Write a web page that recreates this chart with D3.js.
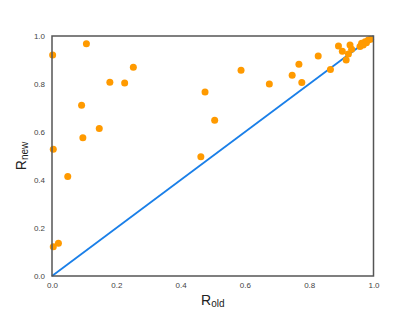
<!DOCTYPE html>
<html>
<head>
<meta charset="utf-8">
<script src="https://cdn.jsdelivr.net/npm/d3@7"></script>
<style>
  body { margin: 0; background: #fff; }
  svg { display: block; }
</style>
</head>
<body>
<div id="chart"></div>
<script>
// values
const rOld = [0.107, 0.002, 0.253, 0.180, 0.226, 0.092, 0.147, 0.096, 0.004, 0.049, 0.020, 0.004,
              0.588, 0.476, 0.506, 0.463, 0.676, 0.747, 0.768, 0.777, 0.828, 0.866,
              0.891, 0.903, 0.927, 0.915, 0.922, 0.932, 0.958, 0.963, 0.974, 0.984, 0.991, 0.968, 0.978];
const rNew = [0.968, 0.921, 0.870, 0.807, 0.804, 0.711, 0.615, 0.576, 0.528, 0.415, 0.136, 0.122,
              0.857, 0.767, 0.649, 0.497, 0.800, 0.836, 0.882, 0.806, 0.917, 0.860,
              0.958, 0.936, 0.963, 0.900, 0.925, 0.945, 0.956, 0.970, 0.976, 0.983, 0.986, 0.962, 0.972];
const ticks = [0, 0.2, 0.4, 0.6, 0.8, 1.0];
const diagonal = [[0, 0], [1, 1]];

const width = 415, height = 311;
const margin = {top: 36, right: 41.5, bottom: 35, left: 52};

const svg = d3.select("#chart").append("svg")
    .attr("width", width)
    .attr("height", height);

const x = d3.scaleLinear().domain([0, 1]).range([margin.left, width - margin.right]);
const y = d3.scaleLinear().domain([0, 1]).range([height - margin.bottom, margin.top]);

// axes (labels only, no tick marks)
const xAxis = svg.append("g")
    .attr("transform", `translate(0,${height - margin.bottom})`)
    .call(d3.axisBottom(x).tickValues(ticks).tickFormat(d3.format(".1f")).tickSize(0).tickPadding(6));
const yAxis = svg.append("g")
    .attr("transform", `translate(${margin.left},0)`)
    .call(d3.axisLeft(y).tickValues(ticks).tickFormat(d3.format(".1f")).tickSize(0).tickPadding(7));
[xAxis, yAxis].forEach(g => {
    g.select(".domain").remove();
    g.selectAll("text")
        .attr("font-family", "Liberation Sans, Arial, sans-serif")
        .attr("font-size", 8)
        .attr("fill", "#444");
});

// diagonal line
svg.append("line")
    .attr("x1", x(diagonal[0][0]))
    .attr("y1", y(diagonal[0][1]))
    .attr("x2", x(diagonal[1][0]))
    .attr("y2", y(diagonal[1][1]))
    .attr("stroke", "#1a7fe8")
    .attr("stroke-width", 1.8);

// points
svg.append("g").selectAll("circle")
    .data(rOld.map((d, i) => [d, rNew[i]]))
    .join("circle")
    .attr("cx", d => x(d[0]))
    .attr("cy", d => y(d[1]))
    .attr("r", 3.5)
    .attr("fill", "#ff9a00");

// frame
svg.append("rect")
    .attr("x", x(0))
    .attr("y", y(1))
    .attr("width", x(1) - x(0))
    .attr("height", y(0) - y(1))
    .attr("fill", "none")
    .attr("stroke", "#555")
    .attr("stroke-width", 1.5);

// axis titles
const xt = svg.append("text")
    .attr("x", (x(0) + x(1)) / 2)
    .attr("y", 305)
    .attr("text-anchor", "middle")
    .attr("font-family", "Liberation Sans, Arial, sans-serif")
    .attr("font-size", 14)
    .attr("fill", "#222");
xt.append("tspan").text("R");
xt.append("tspan").attr("font-size", 10).attr("dy", 2).text("old");

const yt = svg.append("text")
    .attr("transform", `translate(26,${(y(0) + y(1)) / 2}) rotate(-90)`)
    .attr("text-anchor", "middle")
    .attr("font-family", "Liberation Sans, Arial, sans-serif")
    .attr("font-size", 14)
    .attr("fill", "#222");
yt.append("tspan").text("R");
yt.append("tspan").attr("font-size", 10).attr("dy", 2).text("new");
</script>
</body>
</html>
